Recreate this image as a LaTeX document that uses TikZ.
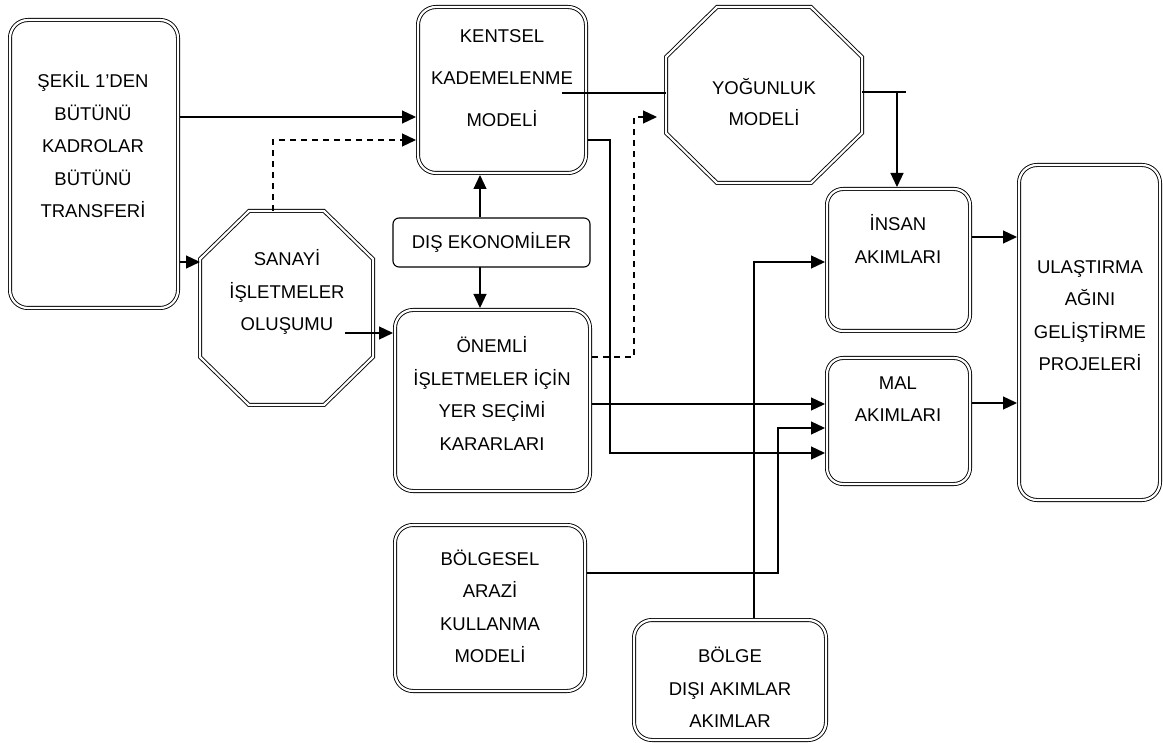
\documentclass[tikz,border=0pt]{standalone}
\usepackage{fontspec}
\setmainfont{Liberation Sans}
\usetikzlibrary{arrows.meta}
\tikzset{
  dbl/.style={draw, double, double distance=2.2pt, line width=0.9pt},
  rbox/.style={dbl, rounded corners=18pt, inner sep=0pt, outer sep=2pt},
  sbox/.style={draw, line width=1.1pt, rounded corners=6pt, inner sep=0pt, outer sep=0.5pt},
  octnode/.style={inner sep=0pt, outer sep=2pt},
  txt/.style={align=center, inner sep=0pt, font=\fontsize{18.5}{32.5}\selectfont},
  conn/.style={line width=1.2pt},
  arr/.style={conn, -{Triangle[length=14pt,width=13pt]}},
  dsh/.style={dash pattern=on 6pt off 5pt}
}
\begin{document}
\begin{tikzpicture}[x=1pt,y=-1pt]
\useasboundingbox (0,0) rectangle (1163,743);

% rounded boxes
\node[rbox, minimum width=168pt, minimum height=288pt] (sekil) at (94,164) {};
\node[rbox, minimum width=168pt, minimum height=166pt] (kentsel) at (502,90) {};
\node[sbox, minimum width=197pt, minimum height=49pt] (dis) at (491.5,242.5) {};
\node[rbox, minimum width=195pt, minimum height=181pt] (onemli) at (492.5,400.5) {};
\node[rbox, rounded corners=16pt, minimum width=143pt, minimum height=142pt] (insan) at (898.5,260) {};
\node[rbox, rounded corners=16pt, minimum width=143pt, minimum height=126pt] (mal) at (898.5,421) {};
\node[rbox, minimum width=141pt, minimum height=335pt] (ulas) at (1089.5,332.5) {};
\node[rbox, minimum width=190pt, minimum height=166pt] (bolgesel) at (490,608) {};
\node[rbox, minimum width=192pt, minimum height=120pt] (bolgedisi) at (730,680) {};

% octagons
\node[octnode, minimum width=169pt, minimum height=190pt] (sanayi) at (286.5,308) {};
\draw[dbl] ([xshift=49pt]sanayi.north west) -- ([xshift=-49pt]sanayi.north east)
  -- ([yshift=-48pt]sanayi.north east) -- ([yshift=48pt]sanayi.south east)
  -- ([xshift=-49pt]sanayi.south east) -- ([xshift=49pt]sanayi.south west)
  -- ([yshift=48pt]sanayi.south west) -- ([yshift=-48pt]sanayi.north west) -- cycle;
\node[octnode, minimum width=192pt, minimum height=172pt] (yogunluk) at (764,95) {};
\draw[dbl] ([xshift=51pt]yogunluk.north west) -- ([xshift=-51pt]yogunluk.north east)
  -- ([yshift=-50pt]yogunluk.north east) -- ([yshift=50pt]yogunluk.south east)
  -- ([xshift=-51pt]yogunluk.south east) -- ([xshift=51pt]yogunluk.south west)
  -- ([yshift=50pt]yogunluk.south west) -- ([yshift=-50pt]yogunluk.north west) -- cycle;

% texts
\node[txt] (sekil-t) at (93,145) {ŞEKİL 1’DEN\\BÜTÜNÜ\\KADROLAR\\BÜTÜNÜ\\TRANSFERİ};
\node[txt, font=\fontsize{18.5}{42}\selectfont] (kentsel-t) at (502,78) {KENTSEL\\KADEMELENME\\MODELİ};
\node[txt] (sanayi-t) at (287,292) {SANAYİ\\İŞLETMELER\\OLUŞUMU};
\node[txt] (dis-t) at (dis) {DIŞ EKONOMİLER};
\node[txt] (onemli-t) at (492,393.5) {ÖNEMLİ\\İŞLETMELER İÇİN\\YER SEÇİMİ\\KARARLARI};
\node[txt, font=\fontsize{18.5}{31}\selectfont] (yogunluk-t) at (764,102.5) {YOĞUNLUK\\MODELİ};
\node[txt] (insan-t) at (898,239) {İNSAN\\AKIMLARI};
\node[txt] (mal-t) at (898,399) {MAL\\AKIMLARI};
\node[txt] (ulas-t) at (1090,315.5) {ULAŞTIRMA\\AĞINI\\GELİŞTİRME\\PROJELERİ};
\node[txt] (bolgesel-t) at (490,606.5) {BÖLGESEL\\ARAZİ\\KULLANMA\\MODELİ};
\node[txt] (bolgedisi-t) at (730,687.5) {BÖLGE\\DIŞI AKIMLAR\\AKIMLAR};

% helper coordinates
\coordinate (sanayiout) at (345,333);
\coordinate (kentselout) at (562,93);
\coordinate (yj) at (897,92);

% connectors
\draw[arr] (sekil.east |- 0,117) -- (kentsel.west |- 0,117);
\draw[arr] (sekil.east |- 0,262) -- (sanayi.west |- 0,262);
\draw[arr, dsh] (sanayi.north -| 273,0) -- (273,140) -- (kentsel.west |- 0,140);
\draw[arr] (dis.north -| 480,0) -- (kentsel.south -| 480,0);
\draw[arr] (dis.south -| 480,0) -- (onemli.north -| 480,0);
\draw[arr] (sanayiout) -- (onemli.west |- sanayiout);
\draw[conn] (kentselout) -- (yogunluk.west |- kentselout);
\draw[arr] (kentsel.east |- 0,140) -| (610,453) -- (mal.west |- 0,453);
\draw[arr, dsh, shorten >=9pt] (onemli.east |- 0,357) -| (634,117) -- (yogunluk.west |- 0,117);
\draw[arr] (onemli.east |- 0,404) -- (mal.west |- 0,404);
\draw[arr] (bolgesel.east |- 0,573) -| (778,428) -- (mal.west |- 0,428);
\draw[arr] (bolgedisi.north -| 754,0) |- (insan.west |- 0,262);
\draw[conn] (yogunluk.east |- yj) -- (906,92);
\draw[arr] (yj) -- (insan.north -| yj);
\draw[arr] (insan.east |- 0,237) -- (ulas.west |- 0,237);
\draw[arr] (mal.east |- 0,403) -- (ulas.west |- 0,403);
\end{tikzpicture}
\end{document}
